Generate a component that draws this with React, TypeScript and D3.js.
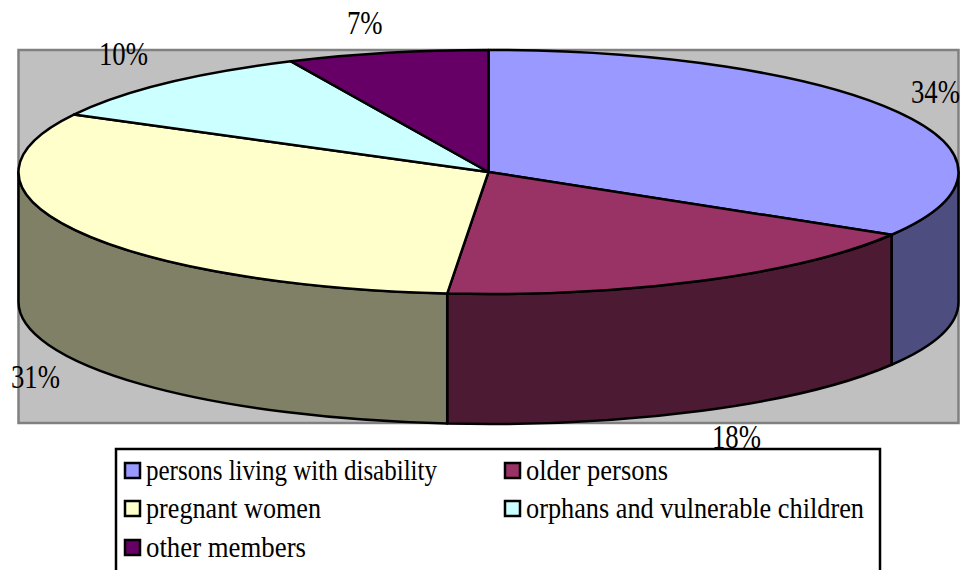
import React from "react";
import * as d3 from "d3";

const categories = [
  "persons living with disability",
  "older persons",
  "pregnant women",
  "orphans and vulnerable children",
  "other members",
];
const values = [33.6, 17.8, 31.4, 10.3, 6.9];
const percentLabels = ["34%", "18%", "31%", "10%", "7%"];
const topColors = ["#9999ff", "#993366", "#ffffcc", "#ccffff", "#660066"];
const sideColors = ["#4d4d80", "#4d1a33", "#808066", "#666680", "#330033"];

const FONT = "'Liberation Serif', 'DejaVu Serif', serif";

const cx = 488.5;
const cy = 172;
const rx = 470;
const ry = 122;
const depth = 130;

const px = (a: number) => cx + rx * Math.sin(a);
const py = (a: number) => cy - ry * Math.cos(a);

const topPath = (a0: number, a1: number) =>
  `M${cx},${cy}L${px(a0)},${py(a0)}A${rx},${ry} 0 ${a1 - a0 > Math.PI ? 1 : 0} 1 ${px(a1)},${py(a1)}Z`;

const sidePath = (a0: number, a1: number) =>
  `M${px(a0)},${py(a0)}A${rx},${ry} 0 0 1 ${px(a1)},${py(a1)}` +
  `L${px(a1)},${py(a1) + depth}A${rx},${ry} 0 0 0 ${px(a0)},${py(a0) + depth}Z`;

// where each percent label sits: text start, baseline
const labelSpots = [
  [911, 103],
  [712, 448],
  [11, 388],
  [99, 65],
  [347, 34],
];

// legend rows, left to right then down
const legendSpots = [
  [124, 480, 291],
  [504, 480, 142],
  [124, 518, 175],
  [504, 518, 338],
  [124, 557, 160],
];

export default function App() {
  const arcs = d3.pie<number>().sort(null)(values);

  const front = arcs
    .map((d, i) => ({
      i,
      a0: Math.max(d.startAngle, Math.PI / 2),
      a1: Math.min(d.endAngle, (3 * Math.PI) / 2),
    }))
    .filter((d) => d.a1 > d.a0);

  return (
    <svg
      width={963}
      height={570}
      style={{ position: "absolute", left: 0, top: 0, display: "block", background: "#fff" }}
    >
      <rect x={18.5} y={50} width={940} height={373} fill="#c0c0c0" stroke="#808080" strokeWidth={2.5} />

      {front.map((d) => (
        <path
          key={d.i}
          d={sidePath(d.a0, d.a1)}
          fill={sideColors[d.i]}
          stroke="#000"
          strokeWidth={2.5}
          strokeLinejoin="round"
        />
      ))}
      {arcs.map((d, i) => (
        <path
          key={i}
          d={topPath(d.startAngle, d.endAngle)}
          fill={topColors[i]}
          stroke="#000"
          strokeWidth={2.5}
          strokeLinejoin="round"
        />
      ))}

      {percentLabels.map((t, i) => (
        <text
          key={t}
          transform={`translate(${labelSpots[i][0]},${labelSpots[i][1]}) scale(0.81,1)`}
          fontFamily={FONT}
          fontSize={33}
          fill="#000"
        >
          {t}
        </text>
      ))}

      <rect x={116} y={449} width={764} height={140} fill="#fff" stroke="#000" strokeWidth={2.5} />
      {categories.map((t, i) => {
        const [x, y, w] = legendSpots[i];
        return (
          <g key={t}>
            <rect x={x + 1} y={y - 17} width={15} height={15} fill={topColors[i]} stroke="#000" strokeWidth={2.5} />
            <text
              x={x + 22}
              y={y}
              textLength={w}
              lengthAdjust="spacingAndGlyphs"
              fontFamily={FONT}
              fontSize={29}
              fill="#000"
            >
              {t}
            </text>
          </g>
        );
      })}
    </svg>
  );
}
